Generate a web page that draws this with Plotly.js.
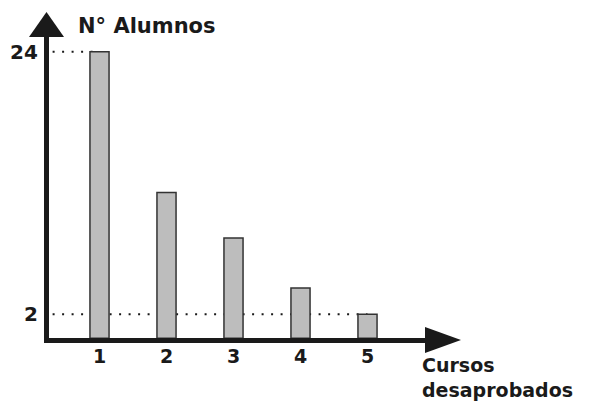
<!DOCTYPE html>
<html>
<head>
<meta charset="utf-8">
<script src="https://cdn.plot.ly/plotly-3.0.1.min.js"></script>
<style>html,body{margin:0;padding:0;background:#fff;}#chart{width:596px;height:403px;}</style>
</head>
<body>
<div id="chart"></div>
<script>
// Data
const courses = [1, 2, 3, 4, 5];
const students = [24, 12.2, 8.4, 4.2, 2];
const markedValues = [24, 2];
const yTitle = "N° Alumnos";
const xTitleLines = ["Cursos", "desaprobados"];

const W = 596, H = 403;
const px = x => x / W;          // pixel -> paper x
const py = y => 1 - y / H;      // pixel -> paper y
const ink = "#1a1a1a";
const font = {family: "DejaVu Sans, Arial, sans-serif", size: 20, color: ink, weight: "bold"};

const shapes = [];
// dotted guide lines to marked values
markedValues.forEach(v => {
  const idx = students.indexOf(v);
  shapes.push({type: "line", layer: "below", xref: "x", yref: "y",
    x0: courses[0] - 0.7, x1: courses[idx], y0: v, y1: v,
    line: {color: ink, width: 2, dash: "2px,7.5px"}});
});
// y axis line + arrow
shapes.push({type: "line", xref: "paper", yref: "paper", x0: px(46.5), x1: px(46.5), y0: py(343), y1: py(36),
  line: {color: ink, width: 5}});
shapes.push({type: "path", xref: "paper", yref: "paper", fillcolor: ink, line: {width: 0},
  path: `M ${px(46.5)} ${py(12)} L ${px(64)} ${py(37)} L ${px(29)} ${py(37)} Z`});
// x axis line + arrow
shapes.push({type: "line", xref: "paper", yref: "paper", x0: px(44), x1: px(427), y0: py(340.5), y1: py(340.5),
  line: {color: ink, width: 5}});
shapes.push({type: "path", xref: "paper", yref: "paper", fillcolor: ink, line: {width: 0},
  path: `M ${px(461)} ${py(340)} L ${px(425)} ${py(327)} L ${px(425)} ${py(353)} Z`});

const annotations = [];
annotations.push({text: yTitle, xref: "paper", yref: "paper", x: px(76), y: py(26),
  xanchor: "left", yanchor: "middle", showarrow: false, font: Object.assign({}, font, {size: 21})});
markedValues.forEach(v => {
  annotations.push({text: String(v), xref: "paper", yref: "y", x: px(40), y: v,
    xanchor: "right", yanchor: "middle", showarrow: false, font: font});
});
courses.forEach(c => {
  annotations.push({text: String(c), xref: "x", yref: "paper", x: c, y: py(356),
    xanchor: "center", yanchor: "middle", showarrow: false, font: Object.assign({}, font, {size: 19})});
});
annotations.push({text: xTitleLines.join("<br>"), xref: "paper", yref: "paper", x: px(421), y: py(402),
  xanchor: "left", yanchor: "bottom", align: "left", borderpad: 0, showarrow: false,
  font: Object.assign({}, font, {size: 19})});

const trace = {
  type: "bar", x: courses, y: students, width: 0.285,
  marker: {color: "#bdbdbd", line: {color: "#333333", width: 1.5}},
  hoverinfo: "x+y"
};

// axis scale: x=1 at px 99.5, 67 px/unit; y=0 at px 338.2, 11.94 px/unit
const xr = [1 - 99.5 / 67, 1 + (W - 99.5) / 67];
const yr = [-(H - 338.2) / 11.94, 338.2 / 11.94];

const layout = {
  width: W, height: H,
  margin: {l: 0, r: 0, t: 0, b: 0, pad: 0},
  paper_bgcolor: "#fff", plot_bgcolor: "#fff",
  showlegend: false,
  xaxis: {range: xr, visible: false, fixedrange: true},
  yaxis: {range: yr, visible: false, fixedrange: true},
  shapes: shapes,
  annotations: annotations
};

Plotly.newPlot("chart", [trace], layout, {displayModeBar: false, staticPlot: true});
</script>
</body>
</html>
